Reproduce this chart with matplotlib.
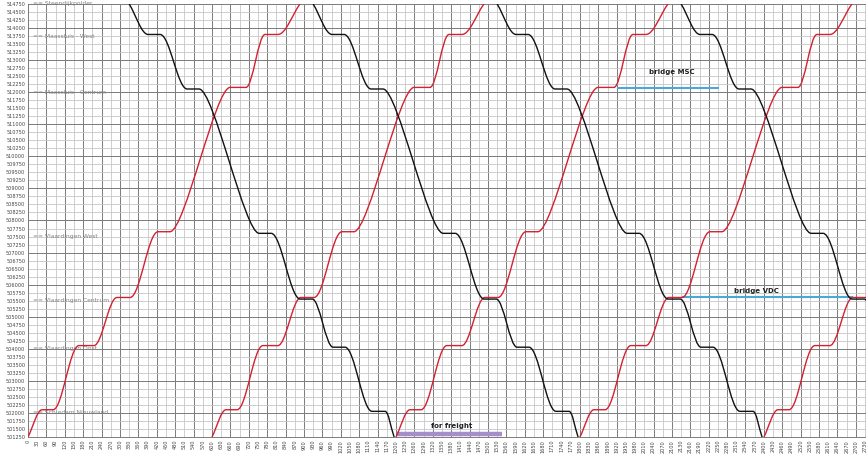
import matplotlib
matplotlib.use('Agg')
import matplotlib.pyplot as plt
from matplotlib.path import Path
from matplotlib.patches import PathPatch

# Tijd-wegdiagram (tijd in s, positie in m)
red_rel_t = [0, 46, 82, 166, 215, 290, 333, 424, 463, 659, 711, 773, 815, 887]
red_pos = [501250, 502100, 502100, 504100, 504100, 505600, 505600, 507650, 507650,
           512150, 512150, 513800, 513800, 514750]
red_starts = [0, 600, 1200, 1800, 2400]

black_rel_t = [0, 62, 101, 189, 228, 424, 463, 558, 597, 665, 704, 792, 835, 864]
black_pos = [514750, 513800, 513800, 512100, 512100, 507600, 507600, 505550, 505550,
             504050, 504050, 502050, 502050, 501250]
black_starts = [330, 930, 1530, 2130]

stations = ["Steendijkpolder", "Maassluis - West", "Maassluis - Centrum", "Vlaardingen West",
            "Vlaardingen Centrum", "Vlaardingen Oost", "Schiedam Nieuwland"]
station_pos = [514750, 513750, 512000, 507500, 505500, 504000, 502000]

# bruggen en vrachtpad
msc_t = [1924, 2250]
msc_pos = [512125, 512125]
vdc_t = [2136, 2687]
vdc_pos = [505600, 505600]
freight_t = [1203, 1546]
freight_pos = [501340, 501340]

x_ticks = list(range(0, 2731, 30))
y_ticks = list(range(501250, 514751, 250))


def train_path(t0, rel_t, pos):
    # vloeiende overgang bij optrekken/remmen (bezier), rechte stukken bij stilstand
    t = [t0 + v for v in rel_t]
    verts = [(t[0], pos[0])]
    codes = [Path.MOVETO]
    n = len(t)
    for i in range(n - 1):
        ta, tb, ya, yb = t[i], t[i + 1], pos[i], pos[i + 1]
        if ya == yb:
            verts.append((tb, yb))
            codes.append(Path.LINETO)
            continue
        dt = tb - ta
        c = min(0.36 * dt, 48)
        f = c / dt
        c1 = (ta + c, ya) if i > 0 else (ta + c, ya + f * (yb - ya))
        c2 = (tb - c, yb) if i < n - 2 else (tb - c, yb - f * (yb - ya))
        verts += [c1, c2, (tb, yb)]
        codes += [Path.CURVE4] * 3
    return Path(verts, codes)


fig = plt.figure(figsize=(8.66, 4.58), dpi=100)
ax = fig.add_axes([28 / 866, 21 / 458, 838 / 866, 433 / 458])
ax.set_xlim(0, 2733)
ax.set_ylim(501250, 514750)

# raster
ax.set_xticks(x_ticks)
ax.set_xticklabels([str(v) for v in x_ticks], rotation=90)
ax.set_yticks(y_ticks)
ax.set_yticklabels([str(v) for v in y_ticks])
ax.set_xticks(list(range(0, 2731, 60)), minor=True)
ax.set_yticks(list(range(502000, 514751, 1000)), minor=True)
ax.xaxis.remove_overlapping_locs = False
ax.yaxis.remove_overlapping_locs = False
ax.grid(which='major', color='#c6c6c6', linewidth=0.6)
ax.grid(which='minor', color='#7c7c7c', linewidth=0.7)
ax.set_axisbelow(True)
ax.tick_params(which='both', length=0)
ax.tick_params(axis='x', labelsize=3.6, labelcolor='#444444', pad=2)
ax.tick_params(axis='y', labelsize=3.6, labelcolor='#444444', pad=2)
for s in ax.spines.values():
    s.set_color('#7c7c7c')
    s.set_linewidth(0.7)

# stations
for name, p in zip(stations, station_pos):
    ax.text(15, p, "== " + name, fontsize=4.3, color='#808080', va='center', ha='left')

# treinen
for t0 in red_starts:
    ax.add_patch(PathPatch(train_path(t0, red_rel_t, red_pos), fill=False,
                           edgecolor='#d42030', linewidth=1.0, zorder=3))
for t0 in black_starts:
    ax.add_patch(PathPatch(train_path(t0, black_rel_t, black_pos), fill=False,
                           edgecolor='#111111', linewidth=1.0, zorder=3))

# bruggen / vracht
ax.plot(msc_t, msc_pos, color='#4aa8d8', linewidth=1.5, zorder=2)
ax.plot(vdc_t, vdc_pos, color='#4aa8d8', linewidth=1.5, zorder=2)
ax.plot(freight_t, freight_pos, color='#a48fcb', linewidth=3.2, solid_capstyle='butt', zorder=2)
ax.text(2100, 512625, "bridge MSC", fontsize=5, fontweight='bold', color='#222222', ha='center', va='center')
ax.text(2377, 505812, "bridge VDC", fontsize=5, fontweight='bold', color='#222222', ha='center', va='center')
ax.text(1383, 501594, "for freight", fontsize=5, fontweight='bold', color='#222222', ha='center', va='center')

fig.savefig('out.png', dpi=100)
